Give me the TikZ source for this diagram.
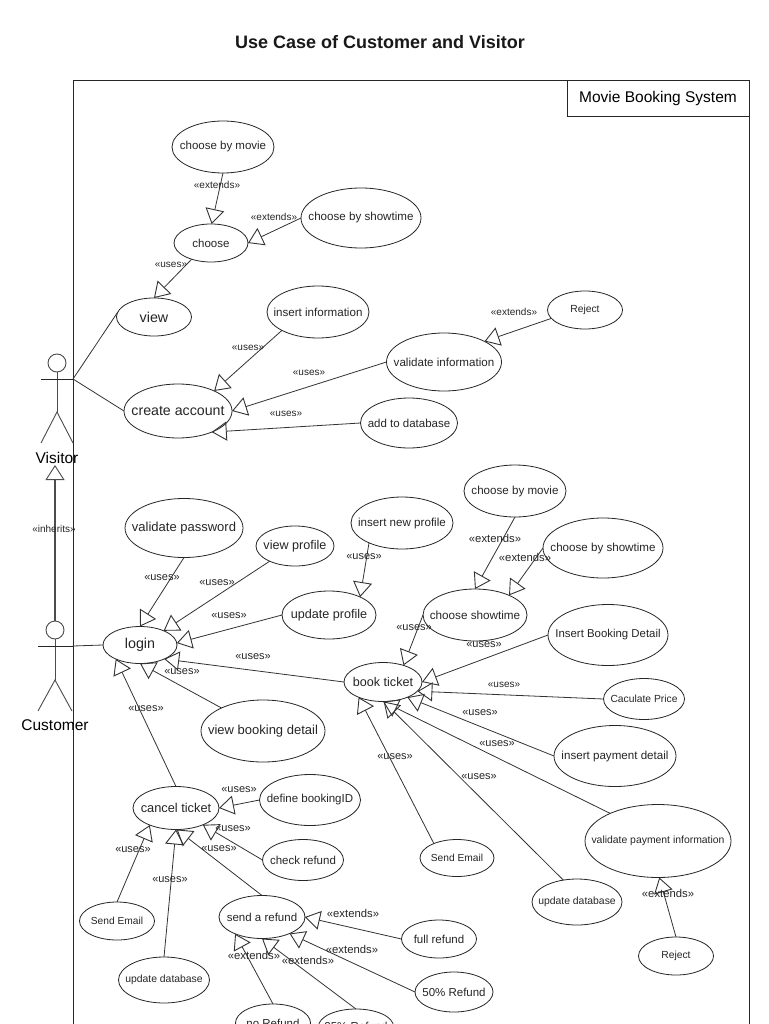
\documentclass[tikz,border=0pt]{standalone}
\usepackage{fontspec}
\setmainfont{Liberation Sans}
\usetikzlibrary{shapes.geometric,arrows.meta}
\tikzset{
  usecase/.style={draw=black!85,ellipse,inner sep=0pt,outer sep=0pt,line width=0.8pt,text=black!85},
  conn/.style={draw=black!80,line width=0.8pt},
  tri/.style={conn,-{Triangle[open,length=15pt,width=19pt,line width=0.9pt]},shorten >=0pt},
  lbl/.style={text=black!85,inner sep=0pt,yshift=-0.6pt},
  actor/.style={draw=black!70,line width=0.9pt},
}
\newcounter{lblc}
\newcommand\UC[6]{\node[usecase,minimum width=#4pt,minimum height=#5pt,font=\fontsize{#6pt}{#6pt}\selectfont] (#1) at (#2) {\makebox[0pt]{#3}};}
\newcommand\LB[3]{\stepcounter{lblc}\node[lbl,font=\fontsize{#3pt}{#3pt}\selectfont] (lbl\arabic{lblc}) at (#1) {#2};}
\begin{document}
\begin{tikzpicture}[x=1pt,y=-1pt]
\useasboundingbox (0,0) rectangle (768,1024);
\fill[white] (0,0) rectangle (768,1024);
\node[font=\bfseries\fontsize{18pt}{18pt}\selectfont,text=black!90,inner sep=0pt] (title) at (380,42) {Use Case of Customer and Visitor};
\draw[line width=0.9pt,black!85] (73,1040) -- (73,80.6) -- (749,80.6) -- (749,1040);
\node[draw=black!85,line width=0.9pt,minimum width=182pt,minimum height=36pt,inner sep=0pt,outer sep=0pt,font=\fontsize{15.5pt}{15.5pt}\selectfont] (sys) at (658,98.6) {Movie Booking System};

% actors
\coordinate (vhand) at (73,379);
\coordinate (vhead) at (57,363);
\coordinate (vhip) at (57,412);
\draw[actor] (vhead) circle (9pt);
\draw[actor] (57,372) -- (vhip);
\draw[black!85,line width=0.9pt] (41,379) -- (vhand);
\draw[actor] (41,443) -- (vhip) -- (73,443);
\node[inner sep=0pt,font=\fontsize{15.5pt}{15.5pt}\selectfont] (visitor) at (57,458) {Visitor};
\coordinate (chand) at (73,646);
\coordinate (chead) at (55,630);
\coordinate (chip) at (55,680);
\draw[actor] (chead) circle (9pt);
\draw[actor] (55,639) -- (chip);
\draw[black!85,line width=0.9pt] (38,646) -- (chand);
\draw[actor] (38,711) -- (chip) -- (72,711);
\node[inner sep=0pt,font=\fontsize{15.5pt}{15.5pt}\selectfont] (customer) at (55,725) {Customer};
\coordinate (cup) at (55,621);
\coordinate (vdown) at (55,465);
\draw[tri,draw=black!70,line width=1.1pt] (cup) -- (vdown);

% use cases
\UC{cbm}{223,147}{choose by movie}{102}{52}{11.5}
\UC{choose}{211,243}{choose}{74}{38}{11.5}
\UC{cbs}{361,218}{choose by showtime}{120}{60}{11.6}
\UC{view}{154,317}{view}{75}{38}{14.3}
\UC{create}{178,411}{create account}{108}{54}{14.2}
\UC{insinfo}{318,312}{insert information}{102}{52}{11.6}
\UC{valinfo}{444,362}{validate information}{115}{58}{11.6}
\UC{reject}{585,310}{Reject}{75}{38}{10.3}
\UC{adddb}{409,423}{add to database}{97}{50}{11.5}
\UC{valpw}{184,528}{validate password}{118}{59}{13}
\UC{vprof}{295,546}{view profile}{78}{40}{12.6}
\UC{newprof}{402,523}{insert new profile}{102}{52}{11.6}
\UC{uprof}{329,615}{update profile}{94}{48}{12.6}
\UC{login}{140,645}{login}{74}{37}{14.3}
\UC{book}{383,682}{book ticket}{78}{39}{12.6}
\UC{cshow}{475,615}{choose showtime}{104}{52}{11.7}
\UC{cbm2}{515,491}{choose by movie}{102}{52}{11.6}
\UC{cbs2}{603,548}{choose by showtime}{120}{60}{11.6}
\UC{ibd}{608,635}{Insert Booking Detail}{120}{61}{11.4}
\UC{price}{644,699}{Caculate Price}{81}{41}{10.3}
\UC{ipd}{615,756}{insert payment detail}{122}{61}{11.6}
\UC{vbd}{263,731}{view booking detail}{124}{62}{13}
\UC{cancel}{176,808}{cancel ticket}{86}{43}{12.8}
\UC{defid}{310,800}{define bookingID}{101}{51}{11.5}
\UC{check}{303,860}{check refund}{81}{41}{11.5}
\UC{mail1}{117,921}{Send Email}{75}{38}{10.2}
\UC{db1}{164,980}{update database}{91}{46}{10.4}
\UC{refund}{262,917}{send a refund}{86}{43}{11.5}
\UC{full}{439,939}{full refund}{75}{38}{11.5}
\UC{half}{454,992}{50\% Refund}{78}{40}{11.5}
\UC{none}{273,1023}{no Refund}{75}{38}{11.5}
\UC{quarter}{356,1026.5}{25\% Refund}{75}{35}{11.5}
\UC{mail2}{457,858}{Send Email}{74}{37}{10.2}
\UC{db2}{577,902}{update database}{90}{46}{10.4}
\UC{vpi}{658,841}{validate payment information}{146}{73}{10.4}
\UC{reject2}{676,956}{Reject}{75}{38}{10.3}

% connectors
\draw[tri] (cbm.270) -- (choose.88);
\draw[tri] (cbs.180) -- (choose.0);
\draw[tri] (choose.220) -- (view.90);
\draw[conn] (vhand) -- (view.172);
\draw[conn] (vhand) -- (create.180);
\draw[tri] (insinfo.207) -- (create.29);
\draw[tri] (valinfo.180) -- (create.0);
\draw[tri] (reject.194) -- (valinfo.27);
\draw[tri] (adddb.180) -- (create.-32);
\draw[conn] (chand) -- (login.180);
\draw[tri] (valpw.270) -- (login.90);
\draw[tri] (vprof.211) -- (login.31);
\draw[tri] (uprof.180) -- (login.3);
\draw[tri] (book.180) -- (login.-30);
\draw[tri] (vbd.151) -- (login.-90);
\draw[tri] (cancel.90) -- (login.210);
\draw[tri] (cshow.180) -- (book.39);
\draw[tri] (ibd.180) -- (book.0);
\draw[tri] (price.180) -- (book.-15);
\draw[tri] (ipd.180) -- (book.-32);
\draw[tri] (vpi.150) -- (book.-90);
\draw[tri] (db2.122) -- (book.-88);
\draw[tri] (mail2.148) -- (book.212);
\draw[tri] (cbm2.270) -- (cshow.90);
\draw[tri] (cbs2.180) -- (cshow.30);
\draw[tri] (newprof.211) -- (uprof.30);
\draw[tri] (defid.180) -- (cancel.0);
\draw[tri] (check.180) -- (cancel.-32);
\draw[tri] (refund.90) -- (cancel.-88);
\draw[tri] (db1.90) -- (cancel.-90);
\draw[tri] (mail1.90) -- (cancel.213);
\draw[tri] (full.180) -- (refund.0);
\draw[tri] (half.180) -- (refund.-31);
\draw[tri] (quarter.90) -- (refund.-90);
\draw[tri] (none.90) -- (refund.212);
\draw[tri] (reject2.90) -- (vpi.-88);

% labels
\LB{217,184}{«extends»}{10}
\LB{274,216}{«extends»}{10}
\LB{171,264}{«uses»}{10}
\LB{248,347}{«uses»}{10}
\LB{309,372}{«uses»}{10}
\LB{286,413}{«uses»}{10}
\LB{514,311}{«extends»}{10}
\LB{54,528}{«inherits»}{10}
\LB{162,577}{«uses»}{11}
\LB{217,582}{«uses»}{11}
\LB{229,615}{«uses»}{11}
\LB{253,656}{«uses»}{11}
\LB{182,671}{«uses»}{11}
\LB{146,708}{«uses»}{11}
\LB{364,556}{«uses»}{11}
\LB{414,627}{«uses»}{11}
\LB{484,644}{«uses»}{11}
\LB{495,538}{«extends»}{11.3}
\LB{525,557}{«extends»}{11.3}
\LB{504,684}{«uses»}{10}
\LB{480,712}{«uses»}{11}
\LB{497,743}{«uses»}{11}
\LB{479,776}{«uses»}{11}
\LB{395,756}{«uses»}{11}
\LB{239,789}{«uses»}{11}
\LB{233,828}{«uses»}{11}
\LB{219,848}{«uses»}{11}
\LB{133,849}{«uses»}{11}
\LB{170,879}{«uses»}{11}
\LB{353,913}{«extends»}{11.3}
\LB{352,949}{«extends»}{11.3}
\LB{254,955}{«extends»}{11.3}
\LB{308,960}{«extends»}{11.3}
\LB{668,893}{«extends»}{11.3}
\end{tikzpicture}
\end{document}
